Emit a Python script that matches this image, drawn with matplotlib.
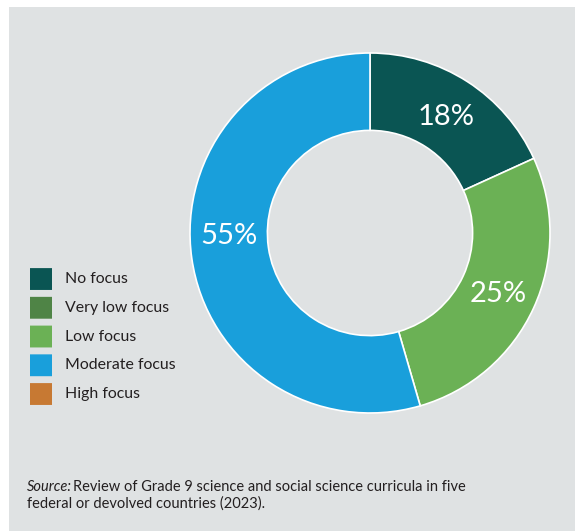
import numpy as np
import matplotlib
matplotlib.use("Agg")
import matplotlib.pyplot as plt
from matplotlib.patches import Rectangle, FancyBboxPatch

plt.rcParams['font.family'] = ['Lato', 'DejaVu Sans']

# data
categories = ["No focus", "Very low focus", "Low focus", "Moderate focus", "High focus"]
shares = [18.2, 0, 27.3, 54.5, 0]          # slice sizes as drawn
pct_labels = ["18%", "", "25%", "55%", ""]  # printed labels
colors = ["#0a5553", "#4f8446", "#6bb155", "#199fdb", "#c77933"]
source_italic = "Source:"
source_rest = "Review of Grade 9 science and social science curricula in five"
source_line2 = "federal or devolved countries (2023)."

W, H = 575, 531
fig = plt.figure(figsize=(W / 100, H / 100), dpi=100, facecolor="white")

# grey panel
bg = fig.add_axes([0, 0, 1, 1])
bg.set_xlim(0, 1)
bg.set_ylim(0, 1)
bg.axis("off")
bg.add_patch(Rectangle((9 / W, 0), 1, 1 - 7 / H, facecolor="#dfe2e3", edgecolor="none"))

# donut
ax = fig.add_axes([190 / W, 118 / H, 360 / W, 360 / H])
idx = [i for i, v in enumerate(shares) if v > 0]
vals = [shares[i] for i in idx]
wedges, _ = ax.pie(vals, colors=[colors[i] for i in idx], startangle=90, counterclock=False,
                   radius=1, wedgeprops=dict(width=0.43, edgecolor="white", linewidth=1.2))
ax.set_xlim(-1, 1)
ax.set_ylim(-1, 1)
ax.set_aspect("equal")
ax.axis("off")

ring_r = 1 - 0.43 / 2
for w, i in zip(wedges, idx):
    ang = (w.theta1 + w.theta2) / 2
    if shares[i] == max(shares):
        ang = 180  # biggest slice label sits at the left
    x = ring_r * np.cos(np.deg2rad(ang))
    y = ring_r * np.sin(np.deg2rad(ang))
    ax.text(x, y, pct_labels[i], color="white", fontsize=21,
            ha="center", va="center_baseline")

# legend
lg = fig.add_axes([30 / W, 122.6 / H, 250 / W, 143.75 / H])
lg.set_xlim(0, 250)
lg.set_ylim(len(categories) - 0.5, -0.5)
lg.axis("off")
for k, (cat, col) in enumerate(zip(categories, colors)):
    lg.add_patch(FancyBboxPatch((0, k - 0.38), 22, 0.76,
                                boxstyle="round,pad=0,rounding_size=0.1",
                                mutation_aspect=1 / 28.75,
                                facecolor=col, edgecolor="none"))
    lg.text(35, k, cat, fontsize=11.4, color="#231f20", va="center", ha="left")

# source note
t1 = bg.text(27 / W, 1 - 491 / H, source_italic, fontsize=10.5, style="italic",
             color="#231f20", ha="left", va="baseline")
bg.annotate(source_rest, xy=(1, 0), xycoords=t1, xytext=(1, 0), textcoords="offset points",
            fontsize=10.5, color="#231f20", ha="left", va="bottom")
bg.text(27 / W, 1 - 508 / H, source_line2, fontsize=10.5, color="#231f20",
        ha="left", va="baseline")

fig.savefig("out.png", dpi=100, facecolor="white")
